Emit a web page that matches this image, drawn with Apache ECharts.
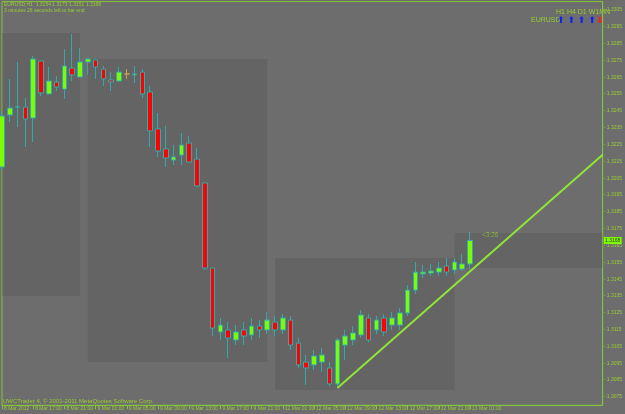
<!DOCTYPE html>
<html><head><meta charset="utf-8">
<script src="https://cdn.jsdelivr.net/npm/echarts@6/dist/echarts.min.js"></script>
<style>html,body{margin:0;padding:0;background:#6d6d6d}#c{width:625px;height:414px}</style>
</head><body><div id="c"></div>
<script>
const categories = [
 '8 Mar 13:00','8 Mar 14:00','8 Mar 15:00','8 Mar 16:00','8 Mar 17:00','8 Mar 18:00','8 Mar 19:00','8 Mar 20:00','8 Mar 21:00','8 Mar 22:00','8 Mar 23:00',
 '9 Mar 00:00','9 Mar 01:00','9 Mar 02:00','9 Mar 03:00','9 Mar 04:00','9 Mar 05:00','9 Mar 06:00','9 Mar 07:00','9 Mar 08:00','9 Mar 09:00','9 Mar 10:00','9 Mar 11:00',
 '9 Mar 12:00','9 Mar 13:00','9 Mar 14:00','9 Mar 15:00','9 Mar 16:00','9 Mar 17:00','9 Mar 18:00','9 Mar 19:00','9 Mar 20:00','9 Mar 21:00','9 Mar 22:00','9 Mar 23:00',
 '12 Mar 00:00','12 Mar 01:00','12 Mar 02:00','12 Mar 03:00','12 Mar 04:00','12 Mar 05:00','12 Mar 06:00','12 Mar 07:00','12 Mar 08:00','12 Mar 09:00','12 Mar 10:00','12 Mar 11:00',
 '12 Mar 12:00','12 Mar 13:00','12 Mar 14:00','12 Mar 15:00','12 Mar 16:00','12 Mar 17:00','12 Mar 18:00','12 Mar 19:00','12 Mar 20:00','12 Mar 21:00','12 Mar 22:00','12 Mar 23:00',
 '13 Mar 00:00','13 Mar 01:00'
];
const shiftSlots = ['','','','','','','','','','','','','','','','',''];
const tickLabels = ['8 Mar 2012','8 Mar 17:00','8 Mar 21:00','9 Mar 01:00','9 Mar 05:00','9 Mar 09:00','9 Mar 13:00','9 Mar 17:00','9 Mar 21:00','12 Mar 01:00','12 Mar 05:00','12 Mar 09:00','12 Mar 13:00','12 Mar 17:00','12 Mar 21:00','13 Mar 01:00'];
const opens = [1.32117,1.32426,1.32473,1.32473,1.32408,1.32747,1.32551,1.32622,1.32580,1.32705,1.32652,
 1.32741,1.32753,1.32699,1.32634,1.32628,1.32670,1.32664,1.32681,1.32563,1.32343,1.32224,1.32158,
 1.32188,1.32259,1.32164,1.32022,1.31516,1.31136,1.31148,1.31088,1.31148,1.31118,1.31171,1.31148,
 1.31195,1.31148,1.31207,1.31070,1.30957,1.30940,1.30957,1.30922,1.30827,1.31058,1.31088,1.31118,
 1.31219,1.31148,1.31219,1.31177,1.31177,1.31249,1.31385,1.31481,1.31486,1.31492,1.31528,1.31504,
 1.31510,1.3154];
const closes = [1.32420,1.32467,1.32475,1.32402,1.32759,1.32557,1.32628,1.32592,1.32717,1.32664,1.32741,
 1.32759,1.32711,1.32640,1.32622,1.32681,1.32670,1.32670,1.32551,1.32331,1.32212,1.32170,1.32176,
 1.32247,1.32146,1.32004,1.31516,1.31159,1.31177,1.31100,1.31136,1.31112,1.31171,1.31148,1.31207,
 1.31148,1.31219,1.31058,1.30940,1.30922,1.30993,1.30999,1.30827,1.31088,1.31112,1.31130,1.31237,
 1.31088,1.31207,1.31136,1.31219,1.31249,1.31385,1.31492,1.31492,1.31498,1.31516,1.31492,1.31552,
 1.31540,1.3168];
const lows = [1.32099,1.32384,1.32354,1.32236,1.32265,1.32539,1.32551,1.32568,1.32521,1.32628,1.32652,
 1.32664,1.32640,1.32598,1.32568,1.32622,1.32640,1.32616,1.32527,1.32236,1.32176,1.32117,1.32129,
 1.32129,1.32146,1.31998,1.31504,1.31112,1.31088,1.30981,1.31058,1.31058,1.31088,1.31100,1.31124,
 1.31112,1.31124,1.31029,1.30922,1.30821,1.30910,1.30898,1.30815,1.30803,1.30969,1.31058,1.31100,
 1.31076,1.31124,1.31112,1.31148,1.31148,1.31231,1.31362,1.31457,1.31469,1.31469,1.31469,1.31481,
 1.31500,1.3151];
const highs = [1.32444,1.32640,1.32741,1.32527,1.32777,1.32747,1.32711,1.32658,1.32818,1.32907,1.32824,
 1.32765,1.32753,1.32717,1.32681,1.32711,1.32699,1.32717,1.32699,1.32598,1.32438,1.32360,1.32247,
 1.32319,1.32301,1.32230,1.32022,1.31516,1.31219,1.31195,1.31177,1.31195,1.31219,1.31207,1.31255,
 1.31231,1.31243,1.31231,1.31100,1.30999,1.31029,1.31041,1.30957,1.31100,1.31148,1.31171,1.31266,
 1.31243,1.31231,1.31243,1.31255,1.31278,1.31415,1.31552,1.31534,1.31540,1.31552,1.31576,1.31576,
 1.31599,1.3173];
const trendLine = [[43, 1.30803], [77, 1.32190]];
const sessionBoxes = [
 [[0, 1.32913], [10, 1.31350]],
 [[11, 1.32759], [34, 1.30957]],
 [[35, 1.31576], [58, 1.30791]],
 [[58, 1.31724], [77, 1.31516]]
];
const lastPrice = 1.3168;

const green = '#9acd32';
const narrow = 'Liberation Sans Narrow, Liberation Sans, sans-serif';
const candles = opens.map((o, i) => {
  const item = {value: [o, closes[i], lows[i], highs[i]]};
  if (i === 16) item.itemStyle = {borderColor: '#c8a050', borderColor0: '#c8a050'};
  return item;
});
const chart = echarts.init(document.getElementById('c'), null, {renderer: 'canvas'});
chart.setOption({
  backgroundColor: '#6d6d6d',
  animation: false,
  grid: {left: 2, right: 18, top: 1.6, bottom: 8.7, show: true, borderColor: '#84c43a', borderWidth: 1},
  xAxis: {
    type: 'category', data: categories.concat(shiftSlots), boundaryGap: false,
    axisLine: {lineStyle: {color: '#84c43a'}},
    axisTick: {show: true, length: 4, interval: (i) => i % 4 === 0 && i <= 60, lineStyle: {color: '#84c43a'}},
    axisLabel: {interval: (i) => i % 4 === 0 && i <= 60, formatter: (v, i) => tickLabels[i / 4] || '', color: green,
      fontSize: 5, fontFamily: narrow, align: 'left', margin: 1, padding: [0, 0, 0, 2]},
    splitLine: {show: false}
  },
  yAxis: {
    type: 'value', position: 'right', min: 1.3070, max: 1.3310, interval: 0.0005, scale: true,
    axisLine: {show: true, lineStyle: {color: '#84c43a'}},
    axisTick: {show: false},
    axisLabel: {formatter: (v) => { const k = Math.round(v * 10000); return k % 10 === 5 ? '- ' + (k / 10000).toFixed(4) : ''; },
      color: green, fontSize: 5, fontFamily: narrow, margin: 1},
    splitLine: {show: false}
  },
  series: [
    {
      type: 'candlestick', data: candles, barWidth: 5,
      itemStyle: {color: '#7cfc00', color0: '#ff0000', borderColor: '#33aaaa', borderColor0: '#33aaaa', borderWidth: 1},
      markArea: {silent: true, itemStyle: {color: 'rgba(80,80,80,0.28)'},
        data: sessionBoxes.map(b => [{coord: b[0]}, {coord: b[1]}])}
    },
    {
      type: 'line', data: trendLine, symbol: 'none', lineStyle: {color: '#8ee635', width: 2}, z: 5,
      markPoint: {symbol: 'rect', symbolSize: [18, 7], data: [{coord: [77, lastPrice]}],
        itemStyle: {color: '#7cfc00'}, symbolOffset: [10, 0],
        label: {show: true, formatter: String(lastPrice.toFixed(4)), color: '#333', fontSize: 5, fontFamily: narrow}}
    }
  ],
  graphic: [
    {type: 'text', left: 4, top: 2, style: {text: 'EURUSD,H1  1.3154 1.3173 1.3151 1.3168', fill: green, fontSize: 5, fontFamily: narrow}},
    {type: 'text', left: 4, top: 8, style: {text: '3 minutes 26 seconds left to bar end', fill: green, fontSize: 5, fontFamily: narrow}},
    {type: 'text', left: 3, top: 398, style: {text: 'UWCTrader 4, \u00a9 2001-2011 MetaQuotes Software Corp.', fill: green, fontSize: 6, fontFamily: 'Liberation Sans'}},
    {type: 'text', left: 556, top: 9, style: {text: 'H1 H4 D1 W1MN', fill: green, fontSize: 7, fontFamily: narrow}},
    {type: 'text', left: 531, top: 17, style: {text: 'EURUSD', fill: green, fontSize: 7, fontFamily: 'Liberation Sans'}},
    {type: 'text', left: 557, top: 16, style: {text: '\u2b06 \u2b06 \u2b06 \u2b06', fill: '#0a1eff', fontSize: 9, fontFamily: 'DejaVu Sans'}},
    {type: 'text', left: 596, top: 16, style: {text: '\u2b07', fill: '#ff1a1a', fontSize: 9, fontFamily: 'DejaVu Sans'}},
    {type: 'text', left: 482, top: 232, style: {text: '<3:26', fill: green, fontSize: 6.5, fontFamily: 'Liberation Sans'}}
  ]
});
</script></body></html>
